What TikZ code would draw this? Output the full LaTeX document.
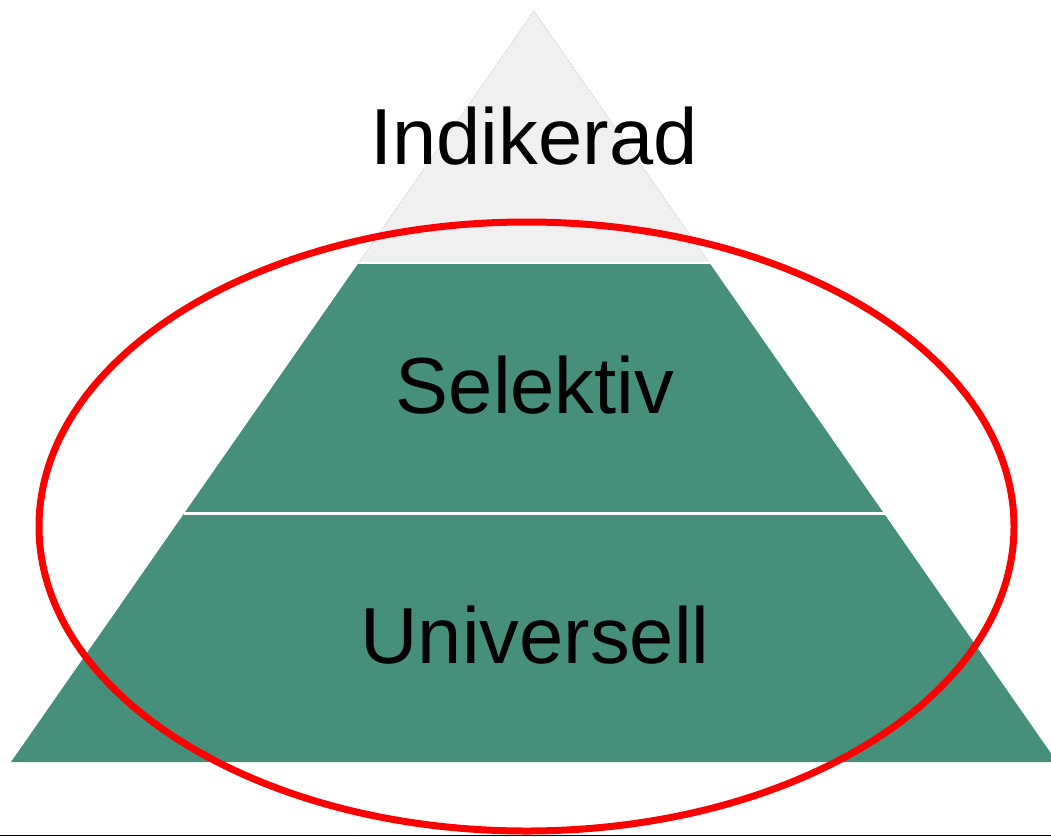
\documentclass[tikz,border=0pt]{standalone}
\usepackage{fontspec}
\setmainfont{Liberation Sans}
\definecolor{pgreen}{HTML}{458F7B}
\definecolor{pgray}{HTML}{F0F0F0}
\definecolor{redring}{HTML}{FF0000}
\definecolor{baseline}{HTML}{7FA89B}
\begin{document}
\begin{tikzpicture}[x=1pt,y=-1pt,
  label/.style={font=\fontsize{79.5}{90}\selectfont, text=black, anchor=base, inner sep=0pt},
  sep/.style={draw=white, line width=2.5pt}]
\useasboundingbox (0,0) rectangle (1051,836);
\begin{scope}
\clip (0,0) rectangle (1051,836);
% pyramid
\fill[pgreen] (534,11) -- (11,762) -- (1057,762) -- cycle;
\fill[pgray] (534,11) -- (359.2,262) -- (708.8,262) -- cycle;
\draw[sep] (358.0,263.2) -- (710.0,263.2);
\draw[sep] (183.5,513.5) -- (884.5,513.5);
% bottom thin line
\draw[baseline, line width=1.2pt] (0,835.4) -- (1051,835.4);
% red ellipse
\draw[redring, line width=7pt] (526.5,526.5) ellipse [x radius=487.5, y radius=304.5];
\end{scope}
\node[label] (ind) at (534,164) {Indikerad};
\node[label] (sel) at (535,413) {Selektiv};
\node[label] (uni) at (535,663) {Universell};
\end{tikzpicture}
\end{document}
